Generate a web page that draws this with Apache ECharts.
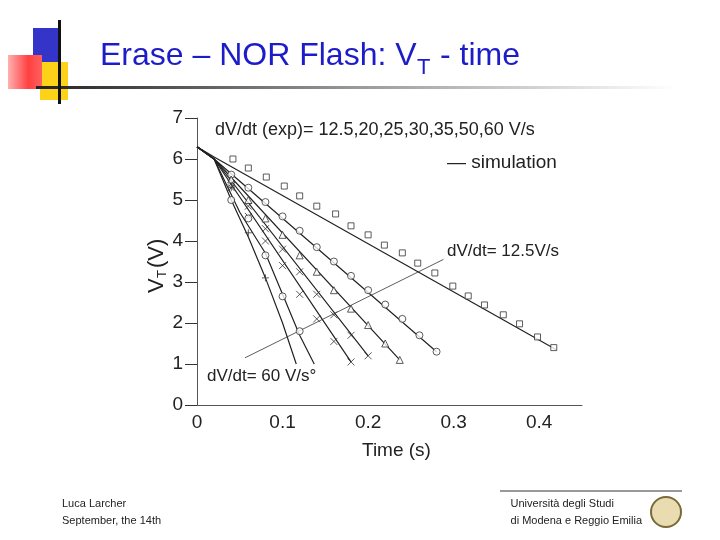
<!DOCTYPE html><html><head><meta charset="utf-8">
<script src="https://cdn.jsdelivr.net/npm/echarts@6/dist/echarts.min.js"></script>
<style>html,body{margin:0;background:#fff}#c{width:720px;height:540px}</style></head><body><div id="c"></div>
<script>
const xTicks=[0,0.1,0.2,0.3,0.4];
const rates=['12.5','20','25','30','35','50','60'];
const sim12=[[0,6.3],[0.02,6.05],[0.42,1.35]];
const exp12=[[0.042,6.0],[0.06,5.78],[0.081,5.56],[0.102,5.34],[0.12,5.1],[0.14,4.85],[0.162,4.66],[0.18,4.37],[0.2,4.15],[0.219,3.9],[0.24,3.71],[0.258,3.46],[0.278,3.22],[0.299,2.9],[0.317,2.66],[0.336,2.44],[0.358,2.2],[0.377,1.98],[0.398,1.66],[0.417,1.4]];
const sim20=[[0,6.3],[0.02,6.0],[0.28,1.3]];
const exp20=[[0.04,5.62],[0.06,5.3],[0.08,4.95],[0.1,4.6],[0.12,4.25],[0.14,3.85],[0.16,3.5],[0.18,3.15],[0.2,2.8],[0.22,2.45],[0.24,2.1],[0.26,1.7],[0.28,1.3]];
const sim25=[[0,6.3],[0.02,6.0],[0.237,1.1]];
const exp25=[[0.04,5.5],[0.06,5.0],[0.08,4.55],[0.1,4.15],[0.12,3.65],[0.14,3.25],[0.16,2.8],[0.18,2.35],[0.2,1.95],[0.22,1.5],[0.237,1.1]];
const sim30=[[0,6.3],[0.02,6.0],[0.2,1.2]];
const exp30=[[0.04,5.4],[0.06,4.85],[0.08,4.3],[0.1,3.8],[0.12,3.25],[0.14,2.7],[0.16,2.2],[0.18,1.7],[0.2,1.2]];
const sim35=[[0,6.3],[0.02,6.0],[0.18,1.05]];
const exp35=[[0.04,5.3],[0.06,4.6],[0.08,4.0],[0.1,3.4],[0.12,2.7],[0.14,2.1],[0.16,1.55],[0.18,1.05]];
const sim50=[[0,6.3],[0.02,6.0],[0.05,4.7],[0.08,3.7],[0.1,2.7],[0.12,1.7],[0.137,1.0]];
const exp50=[[0.04,5.0],[0.06,4.55],[0.08,3.65],[0.1,2.65],[0.12,1.8]];
const sim60=[[0,6.3],[0.02,6.0],[0.04,5.0],[0.06,4.1],[0.08,3.1],[0.1,2.0],[0.116,1.0]];
const exp60=[[0.04,5.3],[0.06,4.2],[0.08,3.1]];
const arrowPts=[[0.288,3.55],[0.056,1.15]];
const sims=[sim12,sim20,sim25,sim30,sim35,sim50,sim60];
const exps=[exp12,exp20,exp25,exp30,exp35,exp50,exp60];
const X='path://M0,0L10,10M10,0L0,10', P='path://M5,0L5,10M0,5L10,5';
const syms=['rect','circle','triangle',X,X,'circle',P];
const series=[];
sims.forEach((d,i)=>{
 series.push({type:'line',data:d,symbol:'none',lineStyle:{color:'#222',width:1.2},silent:true});
 const isPath=syms[i].startsWith('path');
 series.push({type:'scatter',data:exps[i],symbol:syms[i],symbolSize:i==0?6:7,z:3,
  itemStyle:isPath?{color:'none',borderColor:'#333',borderWidth:1}:{color:'#fff',borderColor:'#333',borderWidth:1}});
});
series.push({type:'line',data:arrowPts,symbol:['none','arrow'],symbolSize:[0,7],showSymbol:true,
 lineStyle:{color:'#333',width:0.8},itemStyle:{color:'#333'},silent:true});
const ch=echarts.init(document.getElementById('c'));
ch.setOption({
 animation:false,
 grid:{left:197,right:138,top:118,bottom:135},
 xAxis:{type:'value',min:0,max:0.45,interval:0.1,axisLine:{show:true,lineStyle:{color:'#555'}},axisTick:{show:false},splitLine:{show:false},
  axisLabel:{showMaxLabel:false,fontFamily:'Liberation Sans',fontSize:19,color:'#222',margin:8,formatter:v=>v==0?'0':String(v)}},
 yAxis:{type:'value',min:0,max:7,interval:1,axisLine:{show:true,lineStyle:{color:'#555'}},axisTick:{show:true,inside:false,length:12,lineStyle:{color:'#333'}},splitLine:{show:false},
  axisLabel:{fontFamily:'Liberation Sans',fontSize:19,color:'#222',margin:14}},
 series:series,
 graphic:[
  {type:'rect',shape:{x:33,y:28,width:28,height:38},style:{fill:'#3434c8'}},
  {type:'rect',shape:{x:40,y:62,width:28,height:38},style:{fill:'#ffd21a'}},
  {type:'rect',shape:{x:8,y:55,width:34,height:34},style:{fill:new echarts.graphic.LinearGradient(0,0,1,0,[{offset:0,color:'#ffb0b0'},{offset:0.6,color:'#ff4040'},{offset:1,color:'#ff6060'}])}},
  {type:'rect',shape:{x:36,y:86,width:640,height:3},style:{fill:new echarts.graphic.LinearGradient(0,0,1,0,[{offset:0,color:'#222'},{offset:0.5,color:'#999'},{offset:1,color:'#fff'}])}},
  {type:'rect',shape:{x:58,y:20,width:3,height:84},style:{fill:'#111'}},
  {type:'text',left:100,top:40,style:{text:'Erase – NOR Flash: V',font:'32px Liberation Sans',fill:'#1c1cc8'}},
  {type:'text',left:417,top:57,style:{text:'T',font:'22px Liberation Sans',fill:'#1c1cc8'}},
  {type:'text',left:440,top:40,style:{text:'- time',font:'32px Liberation Sans',fill:'#1c1cc8'}},
  {type:'text',left:215,top:121,style:{text:'dV/dt (exp)= 12.5,20,25,30,35,50,60 V/s',font:'18px Liberation Sans',fill:'#222'}},
  {type:'text',left:447,top:153,style:{text:'— simulation',font:'19px Liberation Sans',fill:'#222'}},
  {type:'text',left:447,top:243,style:{text:'dV/dt= 12.5V/s',font:'17px Liberation Sans',fill:'#222'}},
  {type:'text',left:207,top:368,style:{text:'dV/dt= 60 V/s°',font:'17px Liberation Sans',fill:'#222'}},
  {type:'text',left:362,top:441,style:{text:'Time (s)',font:'19px Liberation Sans',fill:'#222'}},
  {type:'text',x:146,y:293,rotation:Math.PI/2,style:{text:'V',font:'22px Liberation Sans',fill:'#222'}},
  {type:'text',x:156,y:278,rotation:Math.PI/2,style:{text:'T',font:'13px Liberation Sans',fill:'#222'}},
  {type:'text',x:146,y:268,rotation:Math.PI/2,style:{text:'(V)',font:'22px Liberation Sans',fill:'#222'}},
  {type:'text',left:62,top:495,style:{text:'Luca Larcher\nSeptember, the 14th',font:'11px Liberation Sans',fill:'#222',lineHeight:17}},
  {type:'text',right:78,top:495,style:{text:'Università degli Studi\ndi Modena e Reggio Emilia',font:'11px Liberation Sans',fill:'#222',lineHeight:17,align:'right'}},
  {type:'circle',shape:{cx:666,cy:512,r:15},style:{fill:'#e8dcb0',stroke:'#7a6a3a',lineWidth:2}},
  {type:'rect',shape:{x:500,y:490,width:182,height:2},style:{fill:'#999'}}
 ]
});
</script></body></html>
